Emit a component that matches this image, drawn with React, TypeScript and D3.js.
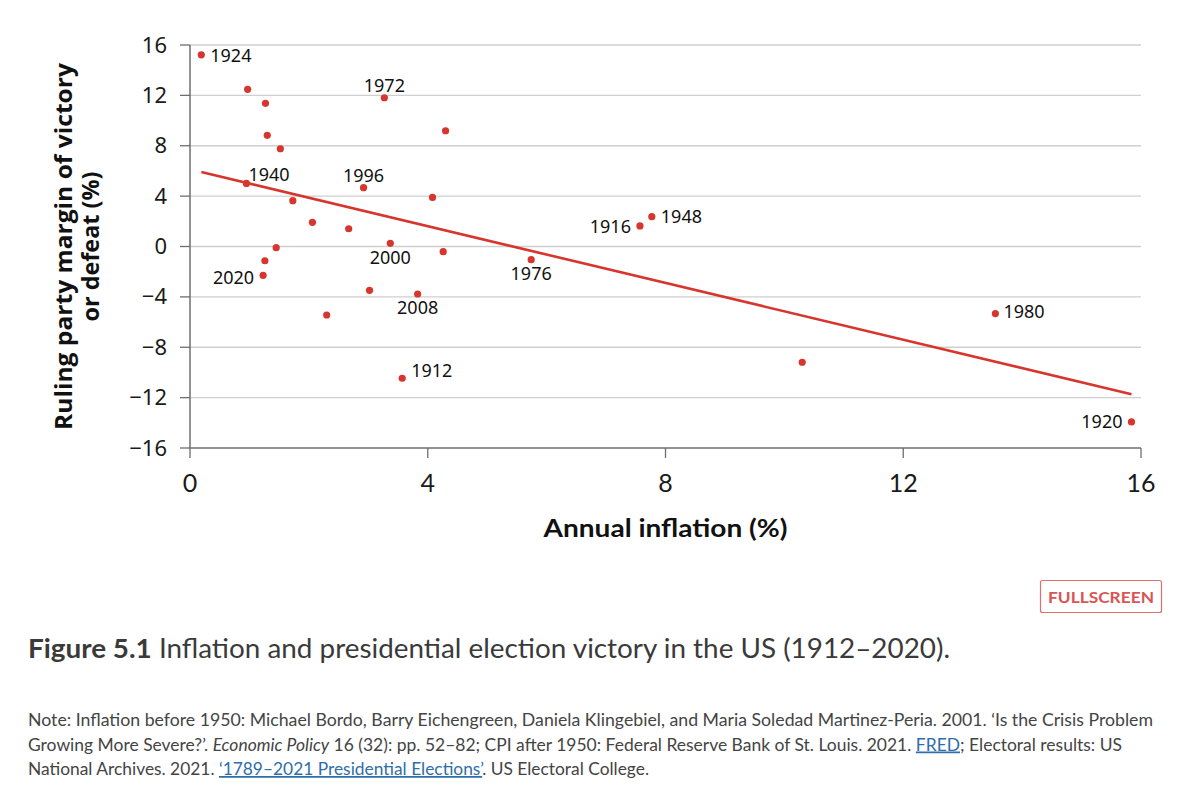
import React from "react";
import * as d3 from "d3";

// ---- data ----
const inflation = [
  0.19, 0.97, 1.27, 3.27, 1.3, 1.52, 4.3, 0.95, 2.92, 1.73, 4.08, 2.06, 2.67, 3.37,
  1.45, 4.26, 1.26, 1.23, 3.02, 3.83, 2.3, 3.57, 5.74, 7.57, 7.77, 10.3, 13.55, 15.84,
];
const margin = [
  15.22, 12.48, 11.37, 11.81, 8.83, 7.76, 9.19, 5.01, 4.67, 3.64, 3.9, 1.92, 1.41, 0.25,
  -0.09, -0.41, -1.13, -2.29, -3.48, -3.77, -5.44, -10.46, -1.05, 1.63, 2.37, -9.19, -5.33, -13.93,
];
const yearLabels = [
  "1924", "", "", "1972", "", "", "", "1940", "1996", "", "", "", "", "2000",
  "", "", "", "2020", "", "2008", "", "1912", "1976", "1916", "1948", "", "1980", "1920",
];
const trendInflation = [0.19, 15.84];
const trendMargin = [5.91, -11.73];
const xTicks = [0, 4, 8, 12, 16];
const yTicks = [16, 12, 8, 4, 0, -4, -8, -12, -16];

// ---- layout (label offsets relative to their point) ----
const labelPlacement: Record<string, { dx: number; dy: number; anchor: string }> = {
  "1924": { dx: 9, dy: 7, anchor: "start" },
  "1972": { dx: 0, dy: -6, anchor: "middle" },
  "1940": { dx: 2, dy: -2, anchor: "start" },
  "1996": { dx: 0, dy: -6, anchor: "middle" },
  "2000": { dx: 0, dy: 21, anchor: "middle" },
  "2020": { dx: -9, dy: 9, anchor: "end" },
  "2008": { dx: 0, dy: 20, anchor: "middle" },
  "1912": { dx: 9, dy: -1, anchor: "start" },
  "1976": { dx: 0, dy: 20, anchor: "middle" },
  "1916": { dx: -9, dy: 7, anchor: "end" },
  "1948": { dx: 9, dy: 6, anchor: "start" },
  "1980": { dx: 8, dy: 4, anchor: "start" },
  "1920": { dx: -9, dy: 6, anchor: "end" },
};

const W = 1192;
const H = 800;
const RED = "#d6362e";
const fmt = (v: number) => String(v).replace("-", "\u2212");

export default function App() {
  const x = d3.scaleLinear().domain([0, 16]).range([190, 1141]);
  const y = d3.scaleLinear().domain([-16, 16]).range([448, 45]);
  const line = d3
    .line<number>()
    .x((_, i) => x(trendInflation[i]))
    .y((d) => y(d));
  const [x0, x1] = x.range();
  const [yb, yt] = y.range();

  return (
    <svg
      width={W}
      height={H}
      viewBox={`0 0 ${W} ${H}`}
      style={{ position: "fixed", left: 0, top: 0, background: "#fff" }}
    >
      <rect width={W} height={H} fill="#fff" />
      {/* gridlines */}
      {yTicks
        .filter((t) => t !== -16)
        .map((t) => (
          <line key={"g" + t} x1={x0} x2={x1} y1={y(t)} y2={y(t)} stroke="#cfcfcf" strokeWidth={1.3} />
        ))}
      {/* axes */}
      <line x1={x0} x2={x0} y1={yt} y2={yb} stroke="#6e6e6e" strokeWidth={1.5} />
      <line x1={x0} x2={x1} y1={yb} y2={yb} stroke="#6e6e6e" strokeWidth={1.5} />
      {yTicks.map((t) => (
        <g key={"yt" + t}>
          <line x1={x0 - 10} x2={x0} y1={y(t)} y2={y(t)} stroke="#6e6e6e" strokeWidth={1.3} />
          <text
            x={167}
            y={y(t) + 7.5}
            textAnchor="end"
            fontFamily="'Noto Sans', sans-serif"
            fontSize={22}
            fill="#1a1a1a"
          >
            {fmt(t)}
          </text>
        </g>
      ))}
      {xTicks.map((t) => (
        <g key={"xt" + t}>
          <line x1={x(t)} x2={x(t)} y1={yb} y2={yb + 10} stroke="#6e6e6e" strokeWidth={1.3} />
          <text
            x={x(t)}
            y={492}
            textAnchor="middle"
            fontFamily="Lato, sans-serif"
            fontSize={25}
            fill="#1a1a1a"
          >
            {fmt(t)}
          </text>
        </g>
      ))}
      {/* axis titles */}
      <text
        x={(x0 + x1) / 2}
        y={537}
        textAnchor="middle"
        fontFamily="Lato, sans-serif"
        fontWeight={700}
        fontSize={25}
        fill="#111"
        textLength={244}
        lengthAdjust="spacingAndGlyphs"
      >
        Annual inflation (%)
      </text>
      <g transform={`translate(0, ${(yt + yb) / 2}) rotate(-90)`}>
        <text
          x={0}
          y={72}
          textAnchor="middle"
          fontFamily="'Open Sans', sans-serif"
          fontWeight={700}
          fontSize={24}
          fill="#111"
          textLength={367}
          lengthAdjust="spacingAndGlyphs"
        >
          Ruling party margin of victory
        </text>
        <text
          x={0}
          y={99}
          textAnchor="middle"
          fontFamily="'Open Sans', sans-serif"
          fontWeight={700}
          fontSize={24}
          fill="#111"
          textLength={150}
          lengthAdjust="spacingAndGlyphs"
        >
          or defeat (%)
        </text>
      </g>
      {/* trend line */}
      <path d={line(trendMargin) || ""} fill="none" stroke={RED} strokeWidth={2.6} />
      {/* points */}
      {inflation.map((v, i) => (
        <circle key={"p" + i} cx={x(v)} cy={y(margin[i])} r={3.6} fill={RED} />
      ))}
      {/* labels */}
      {yearLabels.map((lab, i) => {
        if (!lab) return null;
        const p = labelPlacement[lab];
        return (
          <text
            key={"l" + i}
            x={x(inflation[i]) + p.dx}
            y={y(margin[i]) + p.dy}
            textAnchor={p.anchor}
            fontFamily="'Noto Sans', sans-serif"
            fontSize={18}
            fill="#111"
          >
            {lab}
          </text>
        );
      })}
      {/* fullscreen button */}
      <rect x={1040.5} y={580.5} width={121} height={32} rx={2} fill="#fff" stroke="#de7070" strokeWidth={1.2} />
      <text
        x={1101}
        y={603}
        textAnchor="middle"
        fontFamily="Lato, sans-serif"
        fontWeight={700}
        fontSize={16}
        fill="#d95555"
        textLength={106}
        lengthAdjust="spacingAndGlyphs"
      >
        FULLSCREEN
      </text>
      {/* caption */}
      <text
        x={28}
        y={658}
        fontFamily="Lato, sans-serif"
        fontSize={27}
        fill="#3a3a3a"
        textLength={922}
        lengthAdjust="spacingAndGlyphs"
      >
        <tspan fontWeight={700}>Figure 5.1</tspan>
        <tspan> Inflation and presidential election victory in the US (1912–2020).</tspan>
      </text>
      {/* note */}
      <g fontFamily="Lato, sans-serif" fontSize={17.5} fill="#444">
        <text x={28} y={726} textLength={1125} lengthAdjust="spacingAndGlyphs">
          Note: Inflation before 1950: Michael Bordo, Barry Eichengreen, Daniela Klingebiel, and Maria Soledad
          Martinez-Peria. 2001. ‘Is the Crisis Problem
        </text>
        <text x={28} y={750.5} textLength={1094} lengthAdjust="spacingAndGlyphs">
          <tspan>Growing More Severe?’. </tspan>
          <tspan fontStyle="italic">Economic Policy</tspan>
          <tspan> 16 (32): pp. 52–82; CPI after 1950: Federal Reserve Bank of St. Louis. 2021. </tspan>
          <tspan fill="#2f6ea8" style={{ textDecoration: "underline" }}>FRED</tspan>
          <tspan>; Electoral results: US</tspan>
        </text>
        <text x={28} y={775} textLength={621} lengthAdjust="spacingAndGlyphs">
          <tspan>National Archives. 2021. </tspan>
          <tspan fill="#2f6ea8" style={{ textDecoration: "underline" }}>‘1789–2021 Presidential Elections’</tspan>
          <tspan>. US Electoral College.</tspan>
        </text>
      </g>
    </svg>
  );
}
